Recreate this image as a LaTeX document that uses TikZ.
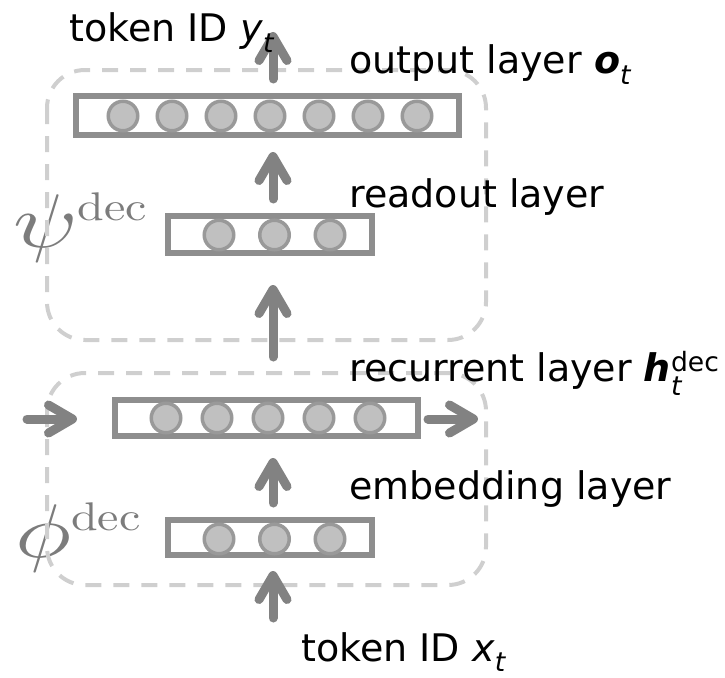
\documentclass[tikz,border=0pt]{standalone}
\usepackage{fontspec}
\usepackage{amsmath}
\usepackage{graphicx}
\newfontfamily\labelfont{DejaVu Sans}
\usetikzlibrary{arrows.meta}
\definecolor{boxgray}{HTML}{8E8E8E}
\definecolor{unitfill}{HTML}{C0C0C0}
\definecolor{unitline}{HTML}{999999}
\definecolor{arrowgray}{HTML}{828282}
\definecolor{groupgray}{HTML}{CFCFCF}
\definecolor{symgray}{HTML}{7C7C7C}
% group symbol with its "dec" superscript
\newcommand{\groupsym}[1]{\scalebox{9.4}[7.6]{$#1$}\raisebox{27pt}{\scalebox{4.8}[4]{\rmfamily dec}}}
\begin{document}
\begin{tikzpicture}[x=1pt,y=-1pt,
  layerbox/.style={draw=boxgray, line width=6pt, minimum height=37pt, inner sep=0pt},
  unit/.style={circle, fill=unitfill, draw=unitline, line width=3.5pt, minimum size=29.5pt, inner sep=0pt},
  flow/.style={draw=arrowgray, line width=9pt, line cap=round,
    -{Straight Barb[length=24pt,width=28pt,round]}},
  group/.style={draw=groupgray, line width=4pt, dash pattern=on 16pt off 12pt, rounded corners=38pt},
  lbl/.style={anchor=base west, inner sep=0pt, font=\labelfont\fontsize{38}{40}\selectfont},
  sym/.style={anchor=base west, inner sep=0pt, text=symgray}]
\useasboundingbox (0,0) rectangle (725,677);

% group symbols
\node[sym] (psi) at (13,247) {\groupsym{\psi}};
\node[sym] (phi) at (15,557) {\groupsym{\phi}};

% parameter groups
\draw[group] (47,70) rectangle (486,340);
\draw[group] (47,373) rectangle (486,585);

% layers
\node[layerbox, minimum width=383pt, minimum height=39pt] (out) at (267.5,115.5) {};
\foreach \k [count=\i] in {0,...,6}
  \node[unit] (o\i) at ({123+49*\k},116) {};

\node[layerbox, minimum width=204pt] (rd) at (270,234.5) {};
\foreach \k [count=\i] in {-1,0,1}
  \node[unit] (r\i) at ({274.5+55.5*\k},235) {};

\node[layerbox, minimum width=303pt, minimum height=36pt] (rec) at (266.5,418) {};
\foreach \k [count=\i] in {-2,...,2}
  \node[unit] (h\i) at ({268+51*\k},418) {};

\node[layerbox, minimum width=204pt, minimum height=35pt] (emb) at (270,537.5) {};
\foreach \k [count=\i] in {-1,0,1}
  \node[unit] (e\i) at ({274.5+55.5*\k},539) {};

% free ends of the outer connectors
\coordinate (ytop) at (273,32);
\coordinate (xin) at (273,618);
\coordinate (hin) at (27,419);
\coordinate (hout) at (478,419);

% connectors
\draw[flow] ([xshift=5.5pt,yshift=14pt]out.north) -- (ytop);
\draw[flow] ([xshift=3pt,yshift=14pt]rd.north) -- ([xshift=5.5pt,yshift=-14pt]out.south);
\draw[flow] ([xshift=6.5pt,yshift=40pt]rec.north) -- ([xshift=3pt,yshift=-29pt]rd.south);
\draw[flow] ([xshift=3pt,yshift=14pt]emb.north) -- ([xshift=6.5pt,yshift=-19pt]rec.south);
\draw[flow] (xin) -- ([xshift=3pt,yshift=-13pt]emb.south);
\draw[flow] (hin) -- ([xshift=-35pt,yshift=-1pt]rec.west);
\draw[flow] ([xshift=7pt,yshift=-1pt]rec.east) -- (hout);

% labels
\node[lbl] (ly) at (69,42) {token ID \textit{y}$_{\textit{t}}$};
\node[lbl] (lo) at (349,74) {output layer \textbf{\textit{o}}$_{\textit{t}}$};
\node[lbl] (lr) at (349,207) {readout layer};
\node[lbl] (lh) at (349,381) {recurrent layer \textbf{\textit{h}}$_{\textit{t}}^{\text{dec}}$};
\node[lbl] (le) at (349,499) {embedding layer};
\node[lbl] (lx) at (301,661) {token ID \textit{x}$_{\textit{t}}$};
\end{tikzpicture}
\end{document}
